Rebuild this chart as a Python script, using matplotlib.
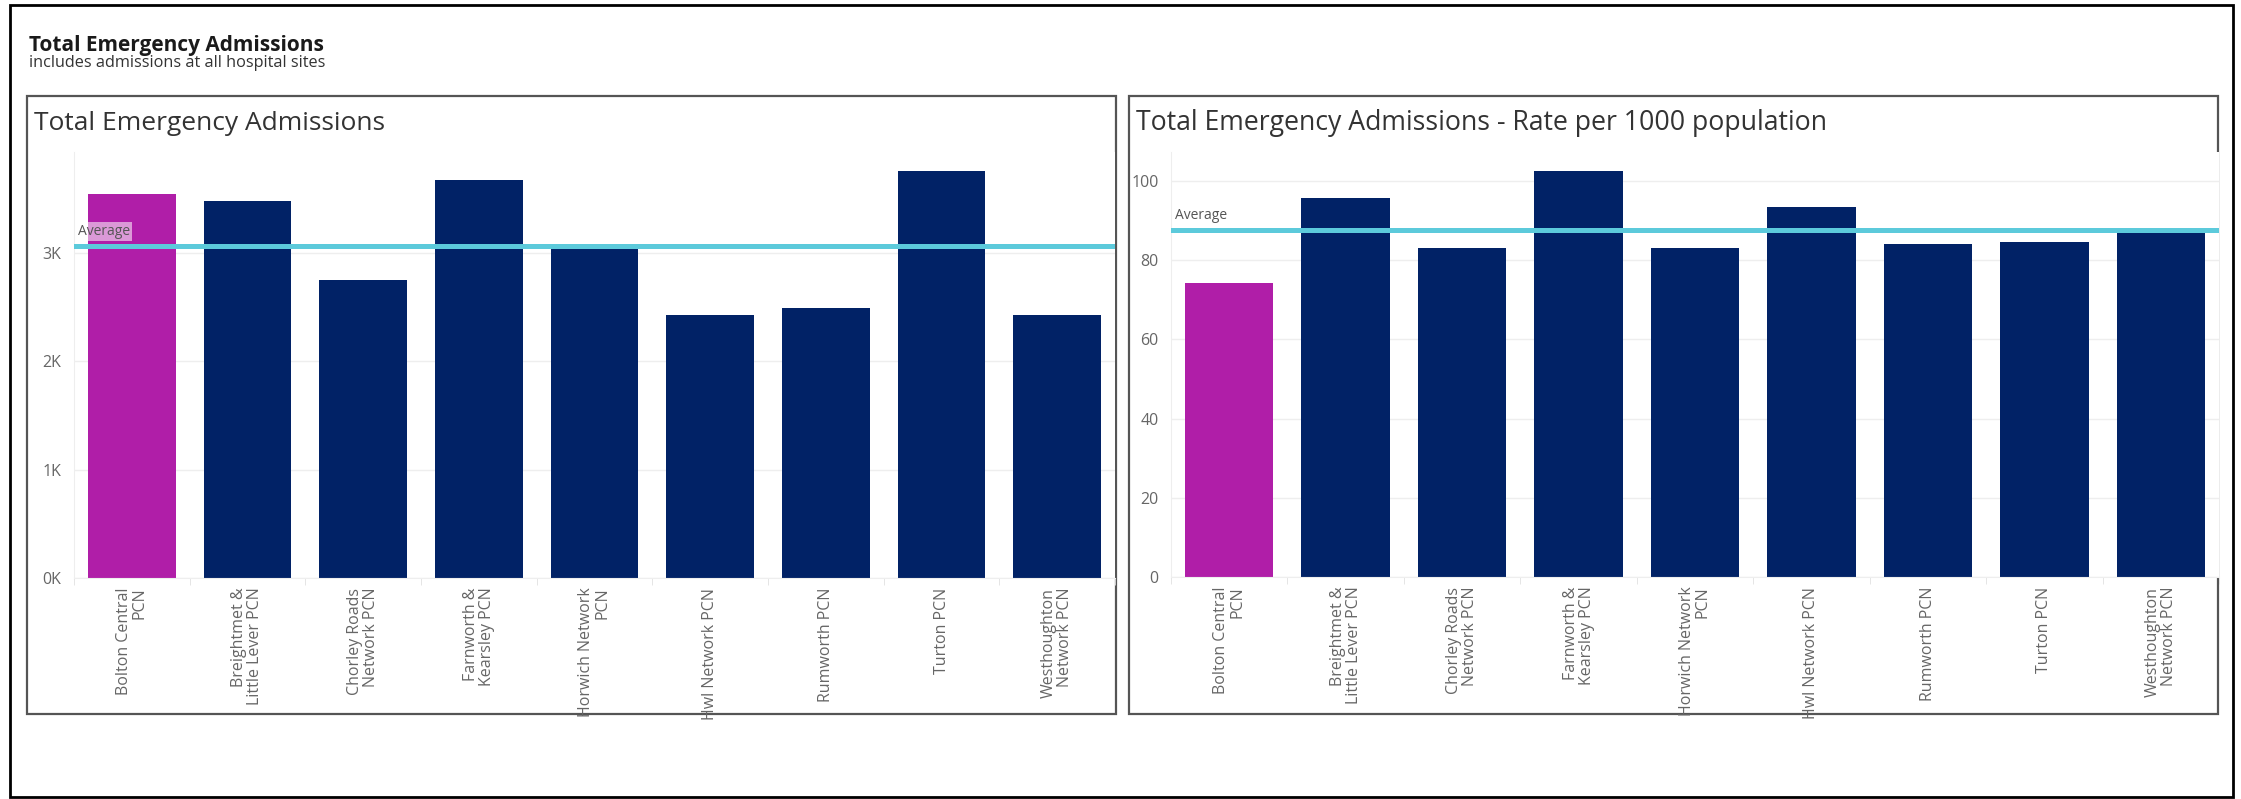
import matplotlib
matplotlib.use("Agg")
import matplotlib.pyplot as plt
from matplotlib.patches import Rectangle
from matplotlib.ticker import FuncFormatter, FixedLocator
import numpy as np

plt.rcParams['font.family'] = ['Open Sans', 'DejaVu Sans']

# ---------------- data ----------------
categories = ["Bolton Central\nPCN", "Breightmet &\nLittle Lever PCN", "Chorley Roads\nNetwork PCN",
              "Farnworth &\nKearsley PCN", "Horwich Network\nPCN", "Hwl Network PCN",
              "Rumworth PCN", "Turton PCN", "Westhoughton\nNetwork PCN"]
admissions = [3546, 3484, 2752, 3675, 3056, 2428, 2493, 3755, 2428]
rate_per_1000 = [74.3, 95.8, 83.0, 102.4, 83.0, 93.5, 84.0, 84.5, 87.2]
admission_ticks = [0, 1000, 2000, 3000]
rate_ticks = [0, 20, 40, 60, 80, 100]
highlight = "Bolton Central\nPCN"

main_title = "Total Emergency Admissions"
subtitle = "includes admissions at all hospital sites"
left_title = "Total Emergency Admissions"
right_title = "Total Emergency Admissions - Rate per 1000 population"

# ---------------- style ----------------
W, H = 2241, 799
MAGENTA = "#B01EA8"
NAVY = "#012266"
CYAN = "#5CCADB"
TICK_GRAY = "#666666"
GRID = "#EEEEEE"

fig = plt.figure(figsize=(W / 100, H / 100), dpi=100)
fig.patch.set_facecolor("white")
renderer = fig.canvas.get_renderer()


def px_rect(x0, y0, x1, y1):
    """pixel box (top-left origin) -> figure fraction [l, b, w, h]"""
    return [x0 / W, 1 - y1 / H, (x1 - x0) / W, (y1 - y0) / H]


def fig_text(x, y, s, target_w, **kw):
    t = fig.text(x / W, 1 - y / H, s, fontsize=10, **kw)
    w = t.get_window_extent(renderer).width
    t.set_fontsize(10 * target_w / w)
    return t


# outer border
fig.add_artist(Rectangle((10 / W, 1 - 797 / H), (2233 - 10) / W, (797 - 5) / H,
                         transform=fig.transFigure, fill=False, edgecolor="black",
                         linewidth=2, zorder=0))

# panel boxes
for (x0, x1) in [(27, 1116), (1129, 2218)]:
    fig.add_artist(Rectangle((x0 / W, 1 - 714 / H), (x1 - x0) / W, (714 - 96) / H,
                             transform=fig.transFigure, fill=False, edgecolor="#555555",
                             linewidth=1.6, zorder=0))

# titles
fig_text(29, 45, main_title, 296, fontweight="bold", color="#1a1a1a", va="center", ha="left")
fig_text(29, 63, subtitle, 296, color="#333333", va="center", ha="left")
fig_text(34, 123, left_title, 352, color="#333333", va="center", ha="left")
fig_text(1136, 123, right_title, 693, color="#333333", va="center", ha="left")


def draw_panel(rect, values, ticks, ymax, fmt):
    ax = fig.add_axes(rect, zorder=2)
    ax.set_facecolor("white")
    x = np.arange(len(categories))
    colors = [MAGENTA if c == highlight else NAVY for c in categories]
    ax.bar(x, values, width=0.76, color=colors, zorder=2)
    avg = float(np.mean(values))
    ax.axhline(avg, color=CYAN, linewidth=3.6, zorder=3)
    ax.annotate("Average", xy=(-0.5, avg), xytext=(3, 5), textcoords="offset points",
                fontsize=10, color="#555555", ha="left", va="bottom", zorder=4,
                bbox=dict(boxstyle="square,pad=0.15", facecolor="white", alpha=0.55,
                          edgecolor="none"))
    ax.set_xlim(-0.5, len(categories) - 0.5)
    ax.set_ylim(0, ymax)
    ax.yaxis.set_major_locator(FixedLocator(ticks))
    ax.yaxis.set_major_formatter(FuncFormatter(fmt))
    ax.grid(axis="y", color=GRID, linewidth=1, zorder=0)
    ax.set_axisbelow(True)
    for s in ["top", "right"]:
        ax.spines[s].set_visible(False)
    ax.spines["left"].set_color(GRID)
    ax.spines["bottom"].set_color(GRID)
    ax.tick_params(axis="y", length=0, pad=9, labelsize=11.5, labelcolor=TICK_GRAY)
    ax.set_xticks(x)
    ax.set_xticklabels(categories, rotation=90, ha="center", va="top",
                       multialignment="right", fontsize=11.5, color=TICK_GRAY,
                       linespacing=1.0)
    ax.tick_params(axis="x", length=0, pad=7)
    ax.set_xticks(np.arange(len(categories) + 1) - 0.5, minor=True)
    ax.tick_params(axis="x", which="minor", length=5, color="#E0E0E0")
    return ax


draw_panel(px_rect(74, 152, 1115, 578), admissions, admission_ticks, 3934,
           lambda v, p: f"{v / 1000:.0f}K")
draw_panel(px_rect(1171, 152, 2219, 577), rate_per_1000, rate_ticks, 107.3,
           lambda v, p: f"{v:.0f}")

fig.savefig("out.png", dpi=100, facecolor="white")
